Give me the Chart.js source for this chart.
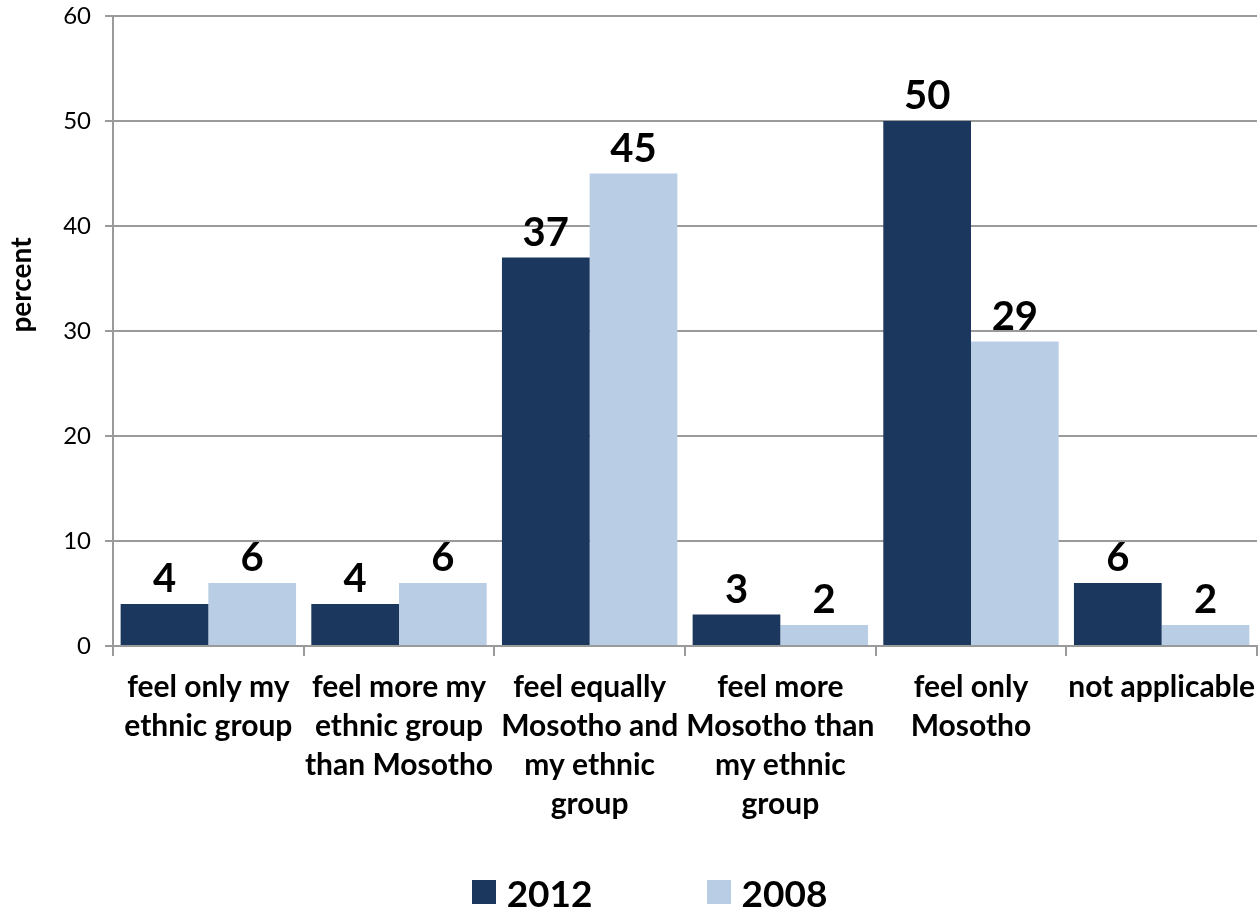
<!DOCTYPE html>
<html>
<head>
<meta charset="utf-8">
<script src="https://cdn.jsdelivr.net/npm/chart.js@4/dist/chart.umd.min.js"></script>
<style>
  html, body { margin: 0; padding: 0; background: #fff; }
  #wrap { position: relative; width: 1259px; height: 910px; }
  #legend {
    position: absolute; left: 0; top: 872px; width: 1259px; height: 40px;
    display: flex; justify-content: center; align-items: center;
    padding-left: 40px; box-sizing: border-box;
    font-family: Lato, "Open Sans", sans-serif; font-weight: bold; font-size: 37px; color: #000;
  }
  #legend .item { display: flex; align-items: center; margin: 0 57px; }
  #legend .box { width: 24px; height: 24px; margin-right: 11px; }
</style>
</head>
<body>
<div id="wrap">
  <canvas id="chart"></canvas>
  <div id="legend"></div>
</div>
<script>
const categories = [
    ['feel only my', 'ethnic group'],
    ['feel more my', 'ethnic group', 'than Mosotho'],
    ['feel equally', 'Mosotho and', 'my ethnic', 'group'],
    ['feel more', 'Mosotho than', 'my ethnic', 'group'],
    ['feel only', 'Mosotho'],
    ['not applicable']
];
const values2012 = [4, 4, 37, 3, 50, 6];
const values2008 = [6, 6, 45, 2, 29, 2];
const yTicks = [0, 10, 20, 30, 40, 50, 60];
const yTitle = 'percent';

const FONT = 'Lato, "Open Sans", sans-serif';
const gridGray = '#9a9a9a';

// numbers above each bar
const barLabels = {
    id: 'barLabels',
    afterDatasetsDraw(chart) {
        const ctx = chart.ctx;
        ctx.save();
        ctx.font = 'bold 40px ' + FONT;
        ctx.fillStyle = '#000';
        ctx.textAlign = 'center';
        ctx.textBaseline = 'alphabetic';
        chart.data.datasets.forEach((ds, i) => {
            chart.getDatasetMeta(i).data.forEach((bar, j) => {
                ctx.fillText(ds.data[j], bar.x, bar.y - 12);
            });
        });
        ctx.restore();
    }
};

// y axis title sits a bit above the middle, like the original
const axisTitle = {
    id: 'axisTitle',
    afterDraw(chart) {
        const ctx = chart.ctx;
        ctx.save();
        ctx.translate(22, 285);
        ctx.rotate(-Math.PI / 2);
        ctx.font = 'bold 28px ' + FONT;
        ctx.fillStyle = '#000';
        ctx.textAlign = 'center';
        ctx.textBaseline = 'middle';
        ctx.fillText(yTitle, 0, 0);
        ctx.restore();
    }
};

const chart = new Chart(document.getElementById('chart').getContext('2d'), {
    type: 'bar',
    data: {
        labels: categories,
        datasets: [
            { label: '2012', data: values2012, backgroundColor: '#1b375e', borderWidth: 0 },
            { label: '2008', data: values2008, backgroundColor: '#b9cde5', borderWidth: 0 }
        ]
    },
    plugins: [barLabels, axisTitle],
    options: {
        responsive: true,
        maintainAspectRatio: false,
        animation: false,
        layout: { padding: { top: 16, right: 2, left: 0, bottom: 0 } },
        datasets: { bar: { categoryPercentage: 0.92, barPercentage: 1.0 } },
        plugins: {
            tooltip: { enabled: false },
            legend: { display: false }
        },
        scales: {
            x: {
                afterFit(scale) {
                    scale.height = 264;
                    scale.paddingLeft = 0;
                    scale.paddingRight = 0;
                },
                grid: {
                    drawOnChartArea: false,
                    drawTicks: true,
                    tickLength: 10,
                    color: gridGray,
                    lineWidth: 2
                },
                border: { color: gridGray, width: 2 },
                ticks: {
                    color: '#000',
                    font: { family: FONT, size: 30, weight: 'bold', lineHeight: 1.3 },
                    maxRotation: 0,
                    autoSkip: false,
                    padding: 12
                }
            },
            y: {
                min: 0,
                max: 60,
                afterFit(scale) {
                    scale.width = 113;
                    scale.paddingTop = 0;
                    scale.paddingBottom = 0;
                },
                afterBuildTicks(scale) { scale.ticks = yTicks.map(v => ({ value: v })); },
                grid: { color: gridGray, lineWidth: 2, tickLength: 8 },
                border: { color: gridGray, width: 2 },
                ticks: {
                    color: '#000',
                    font: { family: FONT, size: 24 },
                    padding: 14
                }
            }
        }
    }
});

// legend built from the datasets
const legendEl = document.getElementById('legend');
chart.data.datasets.forEach(ds => {
    const item = document.createElement('div');
    item.className = 'item';
    const box = document.createElement('span');
    box.className = 'box';
    box.style.background = ds.backgroundColor;
    const txt = document.createElement('span');
    txt.textContent = ds.label;
    item.appendChild(box);
    item.appendChild(txt);
    legendEl.appendChild(item);
});
</script>
</body>
</html>
